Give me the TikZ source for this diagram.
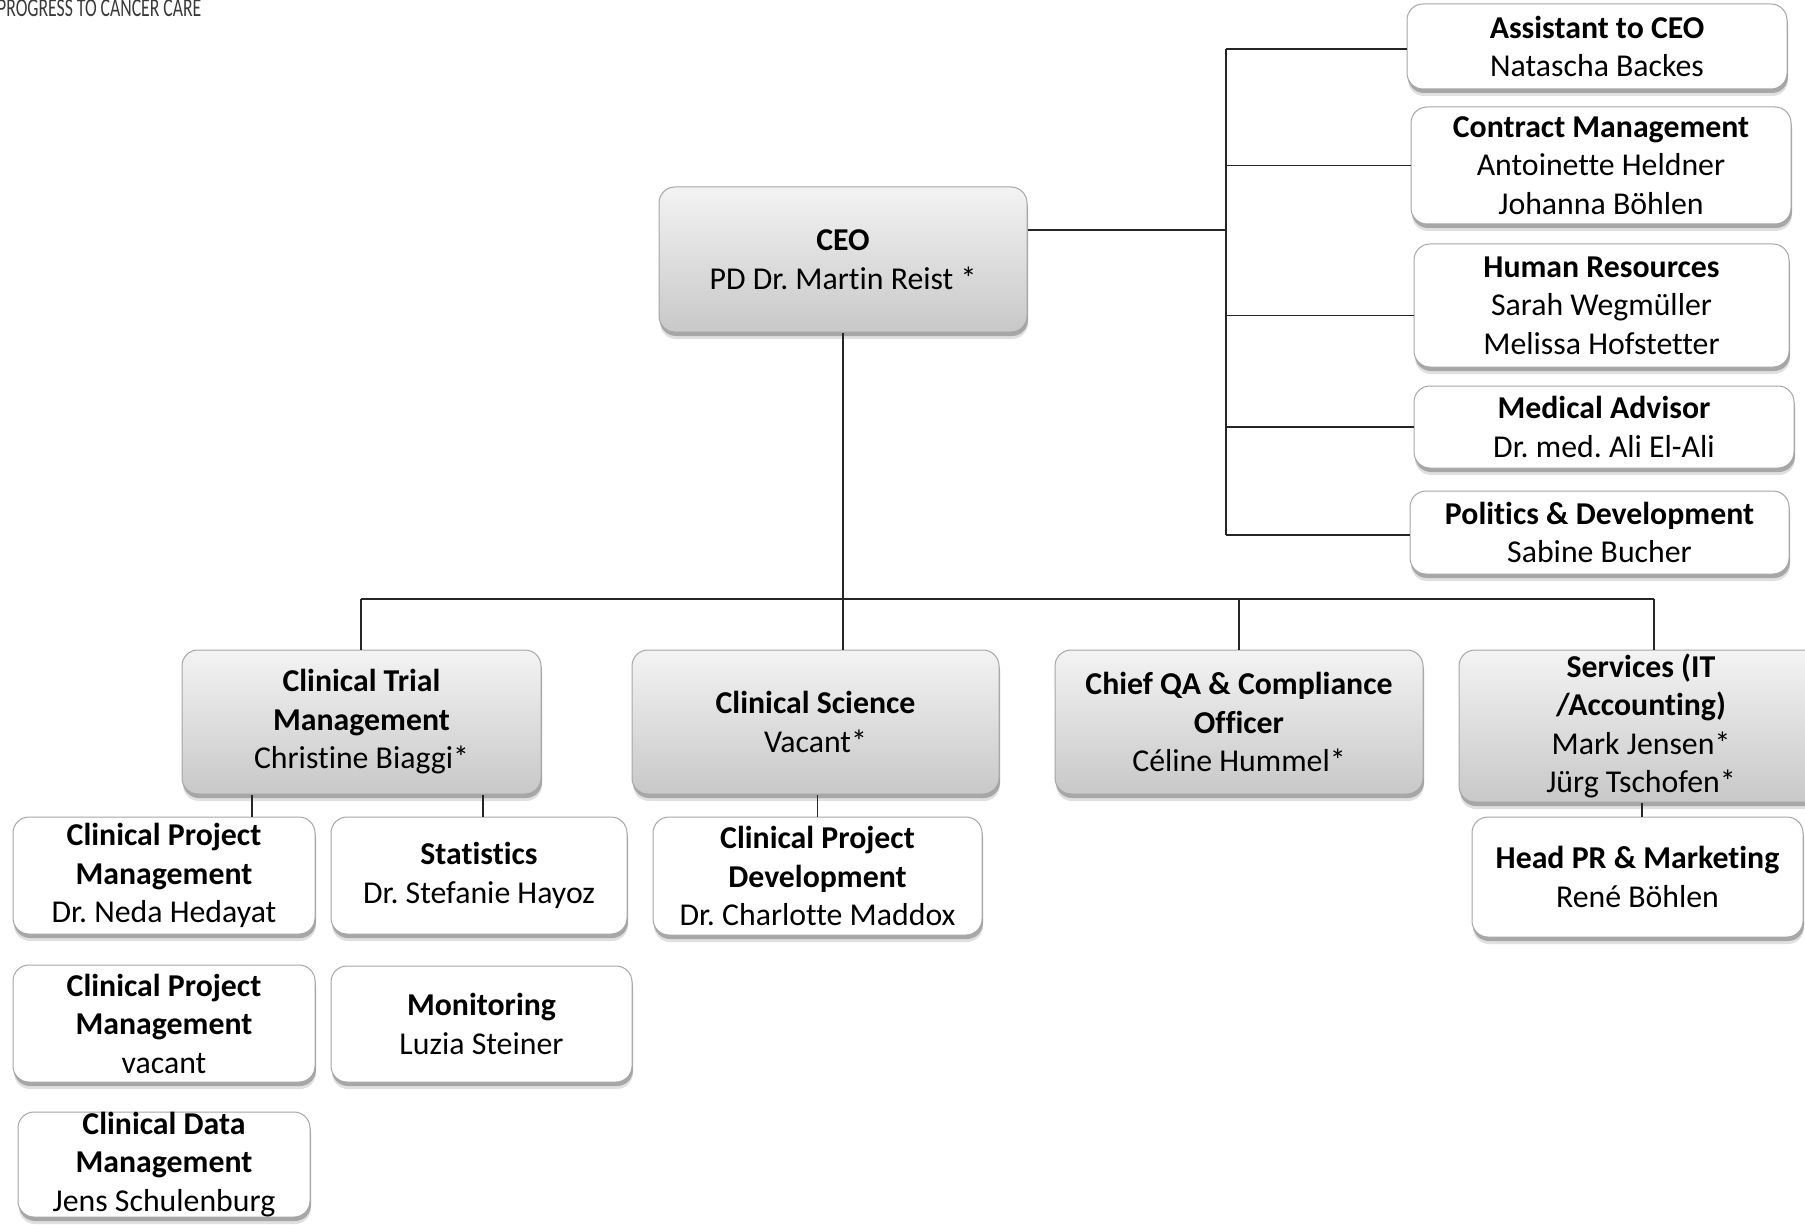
\documentclass[tikz,border=0pt]{standalone}
\usepackage{fontspec}
\setmainfont{Carlito}[Ligatures=NoCommon]
\usetikzlibrary{shadows}
\frenchspacing
\definecolor{gtop}{HTML}{F3F3F3}
\definecolor{gbot}{HTML}{C8C8C8}
\definecolor{bordergray}{HTML}{A6A6A6}
\definecolor{logogray}{HTML}{3A3A3A}
\tikzset{
  x=1pt, y=-1pt,
  orgbase/.style={rounded corners=16pt, draw=bordergray, line width=1pt, align=center,
    inner sep=0pt, font=\fontsize{31.8}{38.5}\selectfont, text=black,
    drop shadow={shadow xshift=1pt, shadow yshift=-7pt, opacity=0.12, fill=black},
    drop shadow={shadow xshift=1pt, shadow yshift=-4pt, opacity=0.25, fill=black}},
  graybox/.style={orgbase, top color=gtop, bottom color=gbot},
  whitebox/.style={orgbase, fill=white},
  conn/.style={draw=black!85, line width=1.3pt}
}
\newcommand{\orgbox}[7]{%
  \node[#2, minimum width={#5-#3}, minimum height={#6-#4}] (#1) at ({(#3+#5)/2},{(#4+#6)/2}) {#7};}
\begin{document}
\begin{tikzpicture}
\useasboundingbox (0,0) rectangle (1805,1225);
\clip (0,0) rectangle (1805,1225);
\fill[white] (0,0) rectangle (1805,1225);

\node[anchor=base west, inner sep=0pt, text=logogray, font=\fontsize{26}{26}\selectfont] (logo) at (-3,17) {\scalebox{0.68}[1]{PROGRESS TO CANCER CARE}};

% top
\orgbox{ceo}{graybox}{659}{187}{1027}{332}{\textbf{CEO}\\PD Dr. Martin Reist *}

% right column
\orgbox{asst}{whitebox}{1407}{4}{1787}{89}{\textbf{Assistant to CEO}\\Natascha Backes}
\orgbox{contract}{whitebox}{1411}{107}{1791}{224}{\textbf{Contract Management}\\Antoinette Heldner\\Johanna Böhlen}
\orgbox{hr}{whitebox}{1414}{244}{1789}{367}{\textbf{Human Resources}\\Sarah Wegmüller\\Melissa Hofstetter}
\orgbox{med}{whitebox}{1414}{386}{1794}{468}{\textbf{Medical Advisor}\\Dr. med. Ali El-Ali}
\orgbox{pol}{whitebox}{1410}{491}{1789}{574}{\textbf{Politics \& Development}\\Sabine Bucher}

% second row
\orgbox{ctm}{graybox}{182}{650}{541}{794}{\textbf{Clinical Trial}\\\textbf{Management}\\Christine Biaggi*}
\orgbox{cs}{graybox}{632}{650}{999}{794}{\textbf{Clinical Science}\\Vacant*}
\orgbox{qa}{graybox}{1055}{650}{1423}{794}{\textbf{Chief QA \& Compliance}\\\textbf{Officer}\\Céline Hummel*}
\orgbox{srv}{graybox}{1459}{650}{1823}{802}{\textbf{Services (IT}\\\textbf{/Accounting)}\\Mark Jensen*\\Jürg Tschofen*}

% third level
\orgbox{cpmA}{whitebox}{13}{817}{315}{934}{\textbf{Clinical Project}\\\textbf{Management}\\Dr. Neda Hedayat}
\orgbox{stat}{whitebox}{331}{817}{627}{934}{\textbf{Statistics}\\Dr. Stefanie Hayoz}
\orgbox{cpmB}{whitebox}{13}{965}{315}{1082}{\textbf{Clinical Project}\\\textbf{Management}\\vacant}
\orgbox{mon}{whitebox}{331}{966}{632}{1082}{\textbf{Monitoring}\\Luzia Steiner}
\orgbox{cdm}{whitebox}{18}{1112}{310}{1217}{\textbf{Clinical Data}\\\textbf{Management}\\Jens Schulenburg}
\orgbox{cpd}{whitebox}{653}{817}{982}{935}{\textbf{Clinical Project}\\\textbf{Development}\\Dr. Charlotte Maddox}
\orgbox{pr}{whitebox}{1472}{817}{1803}{937}{\textbf{Head PR \& Marketing}\\René Böhlen}

% right side connectors
\coordinate (rx) at (1226,0);
\coordinate (cj) at (1226,230);
\draw[conn] ([yshift=-2.5pt]asst.west -| rx) -- ([yshift=-2.5pt]pol.west -| rx);
\draw[conn] (cj) -- (cj -| ceo.east);
\draw[conn] ([yshift=-2.5pt]asst.west) -- ([yshift=-2.5pt]asst.west -| rx);
\draw[conn] (contract.west) -- (contract.west -| rx);
\draw[conn] ([yshift=-10pt]hr.west) -- ([yshift=-10pt]hr.west -| rx);
\draw[conn] (med.west) -- (med.west -| rx);
\draw[conn] ([yshift=-2.5pt]pol.west) -- ([yshift=-2.5pt]pol.west -| rx);

% lower tree
\coordinate (busL) at (361,599);
\coordinate (busR) at (1654,599);
\draw[conn] (ceo.south) -- (ceo.south |- cs.north);
\draw[conn] (busL) -- (busR);
\draw[conn] (busL) -- (busL |- ctm.north);
\draw[conn] (qa.north) -- (qa.north |- busL);
\draw[conn] (busR) -- (busR |- srv.north);
\coordinate (dA) at (252,0);
\coordinate (dB) at (483,0);
\draw[conn] (dA |- ctm.south) -- (dA |- cpmA.north);
\draw[conn] (dB |- ctm.south) -- (dB |- stat.north);
\draw[conn] (cpd.north) -- (cpd.north |- cs.south);
\coordinate (dP) at (1642,0);
\draw[conn] (dP |- srv.south) -- (dP |- pr.north);
\end{tikzpicture}
\end{document}
